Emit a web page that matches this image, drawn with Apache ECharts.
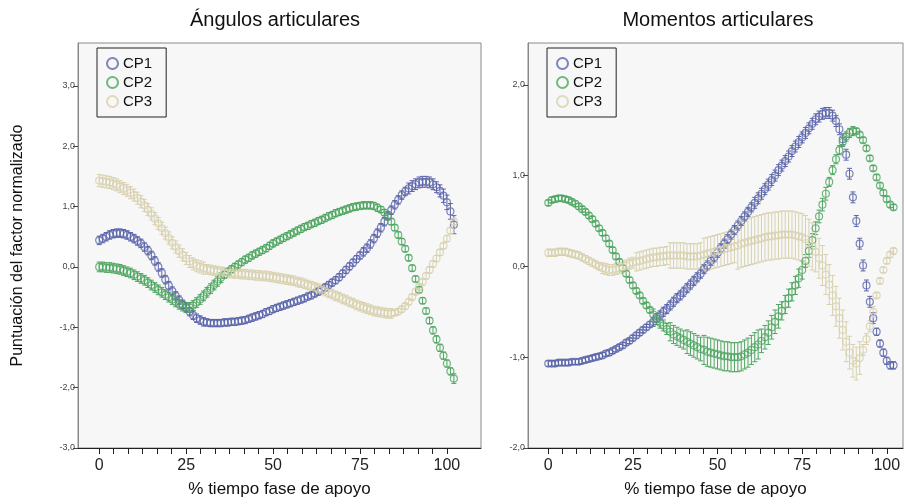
<!DOCTYPE html>
<html>
<head>
<meta charset="utf-8">
<title>Ángulos y momentos articulares</title>
<script src="https://cdn.jsdelivr.net/npm/echarts@6.0.0/dist/echarts.min.js"></script>
<style>
  html, body { margin: 0; padding: 0; background: #fff; }
  #chart { width: 904px; height: 504px; }
</style>
</head>
<body>
<div id="chart"></div>
<script>
// % tiempo fase de apoyo, one point per 1 %
const seriesNames = ["CP1", "CP2", "CP3"];
const xLabelValues = [0, 25, 50, 75, 100];
const leftYTicks = [-3, -2, -1, 0, 1, 2, 3];
const rightYTicks = [-2, -1, 0, 1, 2];

// Ángulos articulares
const angCP1 = [
  0.44, 0.47, 0.50, 0.53, 0.55, 0.56, 0.56, 0.55, 0.53, 0.50,
  0.47, 0.43, 0.39, 0.33, 0.27, 0.19, 0.10, 0.00, -0.10, -0.21,
  -0.31, -0.40, -0.48, -0.55, -0.62, -0.68, -0.74, -0.80, -0.85, -0.88,
  -0.91, -0.92, -0.93, -0.93, -0.93, -0.93, -0.92, -0.92, -0.91, -0.91,
  -0.90, -0.89, -0.88, -0.86, -0.84, -0.82, -0.80, -0.78, -0.75, -0.73,
  -0.70, -0.68, -0.66, -0.64, -0.62, -0.60, -0.58, -0.56, -0.54, -0.52,
  -0.49, -0.47, -0.44, -0.41, -0.38, -0.34, -0.30, -0.26, -0.22, -0.17,
  -0.11, -0.05, 0.01, 0.07, 0.13, 0.19, 0.25, 0.31, 0.38, 0.47,
  0.56, 0.65, 0.75, 0.85, 0.94, 1.03, 1.11, 1.19, 1.25, 1.30,
  1.34, 1.37, 1.40, 1.41, 1.41, 1.40, 1.37, 1.32, 1.26, 1.18,
  1.07, 0.92, 0.70
];
const angCP1Err = [
  0.07, 0.07, 0.07, 0.07, 0.07, 0.07, 0.07, 0.07, 0.07, 0.07,
  0.07, 0.07, 0.07, 0.07, 0.07, 0.07, 0.07, 0.07, 0.07, 0.07,
  0.07, 0.07, 0.07, 0.07, 0.07, 0.07, 0.07, 0.07, 0.07, 0.07,
  0.07, 0.06, 0.06, 0.06, 0.06, 0.06, 0.06, 0.06, 0.06, 0.06,
  0.06, 0.06, 0.06, 0.06, 0.06, 0.06, 0.06, 0.06, 0.06, 0.06,
  0.06, 0.06, 0.06, 0.06, 0.06, 0.06, 0.06, 0.06, 0.06, 0.06,
  0.06, 0.06, 0.06, 0.06, 0.06, 0.06, 0.06, 0.06, 0.06, 0.06,
  0.06, 0.06, 0.06, 0.06, 0.06, 0.06, 0.07, 0.07, 0.07, 0.07,
  0.07, 0.07, 0.07, 0.07, 0.07, 0.07, 0.07, 0.07, 0.07, 0.09,
  0.09, 0.09, 0.09, 0.09, 0.09, 0.09, 0.09, 0.09, 0.10, 0.11,
  0.12, 0.13, 0.15
];
const angCP2 = [
  0.00, 0.00, -0.01, -0.01, -0.02, -0.03, -0.04, -0.06, -0.08, -0.10,
  -0.13, -0.16, -0.19, -0.22, -0.26, -0.30, -0.34, -0.38, -0.42, -0.46,
  -0.50, -0.54, -0.58, -0.62, -0.65, -0.67, -0.67, -0.64, -0.59, -0.54,
  -0.48, -0.42, -0.36, -0.30, -0.24, -0.18, -0.13, -0.08, -0.04, 0.00,
  0.04, 0.08, 0.12, 0.15, 0.19, 0.22, 0.25, 0.28, 0.31, 0.35,
  0.39, 0.42, 0.45, 0.48, 0.51, 0.54, 0.57, 0.60, 0.63, 0.66,
  0.68, 0.71, 0.73, 0.76, 0.78, 0.81, 0.84, 0.86, 0.89, 0.91,
  0.93, 0.95, 0.97, 0.99, 1.00, 1.01, 1.02, 1.02, 1.02, 1.01,
  0.98, 0.95, 0.90, 0.83, 0.75, 0.65, 0.53, 0.42, 0.30, 0.15,
  -0.02, -0.20, -0.38, -0.56, -0.73, -0.89, -1.05, -1.20, -1.34, -1.47,
  -1.60, -1.73, -1.85
];
const angCP2Err = [
  0.08, 0.08, 0.08, 0.08, 0.08, 0.08, 0.08, 0.08, 0.08, 0.08,
  0.08, 0.08, 0.08, 0.08, 0.08, 0.08, 0.08, 0.08, 0.08, 0.08,
  0.08, 0.08, 0.08, 0.08, 0.08, 0.08, 0.08, 0.08, 0.08, 0.08,
  0.08, 0.08, 0.08, 0.08, 0.08, 0.08, 0.06, 0.06, 0.06, 0.06,
  0.06, 0.06, 0.06, 0.06, 0.06, 0.06, 0.06, 0.06, 0.06, 0.06,
  0.06, 0.06, 0.06, 0.06, 0.06, 0.06, 0.06, 0.06, 0.06, 0.06,
  0.06, 0.06, 0.06, 0.06, 0.06, 0.06, 0.06, 0.06, 0.06, 0.06,
  0.06, 0.06, 0.06, 0.06, 0.06, 0.06, 0.06, 0.06, 0.06, 0.06,
  0.06, 0.05, 0.05, 0.05, 0.05, 0.05, 0.05, 0.05, 0.05, 0.05,
  0.05, 0.05, 0.05, 0.05, 0.05, 0.05, 0.06, 0.06, 0.06, 0.06,
  0.06, 0.06, 0.08
];
const angCP3 = [
  1.43, 1.42, 1.41, 1.40, 1.38, 1.36, 1.33, 1.30, 1.27, 1.23,
  1.19, 1.14, 1.08, 1.02, 0.95, 0.88, 0.80, 0.72, 0.64, 0.56,
  0.48, 0.40, 0.33, 0.26, 0.20, 0.14, 0.09, 0.05, 0.02, 0.00,
  -0.02, -0.04, -0.05, -0.06, -0.07, -0.08, -0.09, -0.10, -0.10, -0.11,
  -0.11, -0.12, -0.12, -0.13, -0.13, -0.14, -0.14, -0.15, -0.15, -0.16,
  -0.17, -0.18, -0.19, -0.20, -0.21, -0.22, -0.23, -0.25, -0.26, -0.28,
  -0.30, -0.32, -0.34, -0.36, -0.38, -0.40, -0.43, -0.45, -0.48, -0.50,
  -0.53, -0.55, -0.58, -0.60, -0.63, -0.65, -0.67, -0.69, -0.71, -0.73,
  -0.74, -0.75, -0.76, -0.77, -0.77, -0.76, -0.74, -0.70, -0.65, -0.58,
  -0.50, -0.41, -0.33, -0.25, -0.15, -0.05, 0.05, 0.14, 0.24, 0.35,
  0.47, 0.60, 0.75
];
const angCP3Err = [
  0.10, 0.10, 0.10, 0.10, 0.10, 0.10, 0.10, 0.10, 0.10, 0.10,
  0.10, 0.10, 0.10, 0.10, 0.10, 0.10, 0.10, 0.10, 0.10, 0.10,
  0.10, 0.10, 0.10, 0.10, 0.10, 0.10, 0.10, 0.10, 0.10, 0.10,
  0.10, 0.08, 0.08, 0.08, 0.08, 0.08, 0.08, 0.08, 0.08, 0.08,
  0.08, 0.08, 0.08, 0.08, 0.08, 0.08, 0.08, 0.08, 0.08, 0.08,
  0.08, 0.08, 0.08, 0.08, 0.08, 0.08, 0.08, 0.08, 0.08, 0.08,
  0.08, 0.08, 0.08, 0.08, 0.08, 0.08, 0.08, 0.08, 0.08, 0.08,
  0.08, 0.08, 0.08, 0.08, 0.08, 0.08, 0.08, 0.08, 0.08, 0.08,
  0.08, 0.08, 0.08, 0.08, 0.08, 0.05, 0.05, 0.05, 0.05, 0.05,
  0.05, 0.05, 0.05, 0.05, 0.05, 0.05, 0.05, 0.05, 0.05, 0.05,
  0.05, 0.05, 0.05
];

// Momentos articulares
const momCP1 = [
  -1.07, -1.07, -1.07, -1.06, -1.06, -1.06, -1.06, -1.05, -1.05, -1.05,
  -1.04, -1.03, -1.02, -1.01, -1.00, -0.99, -0.98, -0.96, -0.95, -0.93,
  -0.91, -0.89, -0.87, -0.84, -0.82, -0.79, -0.76, -0.73, -0.70, -0.67,
  -0.64, -0.61, -0.57, -0.54, -0.50, -0.47, -0.43, -0.39, -0.35, -0.32,
  -0.28, -0.24, -0.20, -0.16, -0.12, -0.08, -0.03, 0.01, 0.06, 0.10,
  0.15, 0.20, 0.25, 0.30, 0.35, 0.40, 0.45, 0.50, 0.55, 0.60,
  0.65, 0.70, 0.75, 0.80, 0.85, 0.90, 0.95, 1.00, 1.06, 1.11,
  1.16, 1.21, 1.27, 1.32, 1.37, 1.42, 1.47, 1.52, 1.57, 1.62,
  1.65, 1.68, 1.69, 1.69, 1.66, 1.60, 1.51, 1.40, 1.23, 1.02,
  0.76, 0.50, 0.25, 0.01, -0.21, -0.39, -0.57, -0.72, -0.85, -0.95,
  -1.04, -1.09, -1.09
];
const momCP1Err = [
  0.03, 0.03, 0.03, 0.03, 0.03, 0.03, 0.03, 0.03, 0.03, 0.03,
  0.03, 0.03, 0.03, 0.03, 0.03, 0.03, 0.03, 0.03, 0.03, 0.03,
  0.03, 0.03, 0.03, 0.03, 0.03, 0.03, 0.03, 0.03, 0.03, 0.03,
  0.03, 0.05, 0.05, 0.05, 0.05, 0.05, 0.05, 0.05, 0.05, 0.05,
  0.05, 0.05, 0.05, 0.05, 0.05, 0.05, 0.05, 0.05, 0.05, 0.05,
  0.05, 0.05, 0.05, 0.05, 0.05, 0.05, 0.05, 0.05, 0.05, 0.05,
  0.05, 0.06, 0.06, 0.06, 0.06, 0.06, 0.06, 0.06, 0.06, 0.06,
  0.06, 0.06, 0.06, 0.06, 0.06, 0.06, 0.06, 0.06, 0.06, 0.06,
  0.06, 0.06, 0.06, 0.06, 0.06, 0.06, 0.06, 0.06, 0.06, 0.06,
  0.06, 0.06, 0.06, 0.06, 0.06, 0.06, 0.06, 0.04, 0.04, 0.04,
  0.04, 0.04, 0.04
];
const momCP2 = [
  0.70, 0.73, 0.74, 0.75, 0.75, 0.74, 0.73, 0.71, 0.69, 0.66,
  0.63, 0.60, 0.56, 0.52, 0.47, 0.42, 0.37, 0.31, 0.25, 0.18,
  0.11, 0.05, -0.02, -0.08, -0.15, -0.21, -0.27, -0.32, -0.38, -0.43,
  -0.48, -0.53, -0.58, -0.62, -0.65, -0.69, -0.72, -0.75, -0.77, -0.79,
  -0.81, -0.83, -0.85, -0.87, -0.89, -0.91, -0.92, -0.94, -0.95, -0.96,
  -0.97, -0.98, -0.99, -0.99, -1.00, -1.00, -1.00, -0.99, -0.97, -0.95,
  -0.92, -0.89, -0.86, -0.82, -0.78, -0.73, -0.67, -0.61, -0.55, -0.49,
  -0.42, -0.35, -0.28, -0.21, -0.13, -0.04, 0.06, 0.17, 0.29, 0.42,
  0.55, 0.68, 0.80, 0.93, 1.06, 1.18, 1.28, 1.37, 1.43, 1.47,
  1.49, 1.49, 1.45, 1.39, 1.30, 1.19, 1.08, 0.98, 0.89, 0.81,
  0.74, 0.68, 0.65
];
const momCP2Err = [
  0.03, 0.03, 0.03, 0.03, 0.03, 0.03, 0.03, 0.03, 0.03, 0.03,
  0.03, 0.03, 0.03, 0.03, 0.03, 0.03, 0.03, 0.03, 0.03, 0.03,
  0.03, 0.03, 0.03, 0.03, 0.03, 0.03, 0.03, 0.03, 0.03, 0.03,
  0.03, 0.06, 0.06, 0.06, 0.06, 0.06, 0.10, 0.10, 0.10, 0.10,
  0.10, 0.13, 0.13, 0.13, 0.13, 0.13, 0.16, 0.16, 0.16, 0.16,
  0.16, 0.16, 0.16, 0.16, 0.16, 0.16, 0.16, 0.16, 0.16, 0.16,
  0.16, 0.16, 0.16, 0.13, 0.13, 0.13, 0.13, 0.13, 0.13, 0.10,
  0.10, 0.10, 0.10, 0.10, 0.10, 0.10, 0.07, 0.07, 0.07, 0.07,
  0.07, 0.07, 0.07, 0.05, 0.05, 0.05, 0.05, 0.05, 0.05, 0.05,
  0.05, 0.03, 0.03, 0.03, 0.03, 0.03, 0.03, 0.03, 0.03, 0.03,
  0.03, 0.03, 0.03
];
const momCP3 = [
  0.15, 0.15, 0.15, 0.16, 0.16, 0.16, 0.15, 0.14, 0.13, 0.12,
  0.10, 0.08, 0.06, 0.04, 0.02, 0.00, -0.02, -0.03, -0.04, -0.04,
  -0.03, -0.02, -0.01, 0.01, 0.03, 0.04, 0.05, 0.06, 0.07, 0.08,
  0.09, 0.10, 0.10, 0.11, 0.11, 0.12, 0.12, 0.12, 0.12, 0.12,
  0.12, 0.11, 0.11, 0.11, 0.11, 0.12, 0.13, 0.14, 0.15, 0.16,
  0.17, 0.18, 0.19, 0.20, 0.21, 0.22, 0.23, 0.25, 0.26, 0.27,
  0.28, 0.29, 0.30, 0.31, 0.32, 0.33, 0.33, 0.34, 0.34, 0.35,
  0.35, 0.35, 0.35, 0.34, 0.33, 0.32, 0.30, 0.26, 0.22, 0.16,
  0.09, 0.01, -0.09, -0.20, -0.32, -0.44, -0.57, -0.70, -0.83, -0.95,
  -1.04, -1.07, -1.01, -0.92, -0.80, -0.66, -0.50, -0.32, -0.16, -0.04,
  0.06, 0.13, 0.17
];
const momCP3Err = [
  0.04, 0.04, 0.04, 0.04, 0.04, 0.04, 0.04, 0.04, 0.04, 0.04,
  0.04, 0.04, 0.04, 0.04, 0.04, 0.04, 0.06, 0.06, 0.06, 0.06,
  0.06, 0.06, 0.06, 0.06, 0.06, 0.06, 0.10, 0.10, 0.10, 0.10,
  0.10, 0.10, 0.10, 0.10, 0.10, 0.10, 0.14, 0.14, 0.14, 0.14,
  0.14, 0.14, 0.14, 0.14, 0.14, 0.14, 0.18, 0.18, 0.18, 0.18,
  0.18, 0.18, 0.18, 0.18, 0.18, 0.18, 0.26, 0.26, 0.26, 0.26,
  0.26, 0.26, 0.26, 0.26, 0.26, 0.26, 0.26, 0.26, 0.26, 0.26,
  0.26, 0.26, 0.26, 0.26, 0.26, 0.26, 0.26, 0.26, 0.26, 0.22,
  0.22, 0.22, 0.22, 0.22, 0.22, 0.22, 0.22, 0.22, 0.22, 0.18,
  0.18, 0.18, 0.18, 0.06, 0.06, 0.06, 0.06, 0.03, 0.03, 0.03,
  0.03, 0.03, 0.03
];

const colors = ["#5c66ab", "#4ea660", "#d7d1ae"];
const font = "'Liberation Sans', Arial, sans-serif";

// ticks every 25/6 % like the original axis
const xTickValues = [];
for (let i = 0; i <= 24; i++) xTickValues.push(+(i * 100 / 24).toFixed(4));

const panels = [
  { vals: [angCP1, angCP2, angCP3], errs: [angCP1Err, angCP2Err, angCP3Err] },
  { vals: [momCP1, momCP2, momCP3], errs: [momCP1Err, momCP2Err, momCP3Err] }
];

function fmt(v) {
  return v.toFixed(1).replace(".", ",");
}

function errorBars(color) {
  return function (params, api) {
    const x = api.value(0);
    const lo = api.coord([x, api.value(1)]);
    const hi = api.coord([x, api.value(2)]);
    const w = 2.5;
    const st = { stroke: color, lineWidth: 1 };
    return {
      type: "group",
      children: [
        { type: "line", shape: { x1: lo[0], y1: lo[1], x2: hi[0], y2: hi[1] }, style: st },
        { type: "line", shape: { x1: lo[0] - w, y1: lo[1], x2: lo[0] + w, y2: lo[1] }, style: st },
        { type: "line", shape: { x1: hi[0] - w, y1: hi[1], x2: hi[0] + w, y2: hi[1] }, style: st }
      ]
    };
  };
}

const series = [];
panels.forEach(function (p, g) {
  p.vals.forEach(function (vals, k) {
    const err = p.errs[k];
    series.push({
      name: seriesNames[k] + " err",
      type: "custom",
      xAxisIndex: g,
      yAxisIndex: g,
      renderItem: errorBars(colors[k]),
      encode: { x: 0, y: [1, 2] },
      data: vals.map(function (v, i) { return [i, v - err[i], v + err[i]]; }),
      silent: true
    });
    series.push({
      name: seriesNames[k],
      type: "scatter",
      xAxisIndex: g,
      yAxisIndex: g,
      symbol: "circle",
      symbolSize: 7,
      itemStyle: { color: "rgba(255,255,255,0)", borderColor: colors[k], borderWidth: 1.2 },
      data: vals.map(function (v, i) { return [i, v]; })
    });
  });
});

function xAxis(g, min, max) {
  return {
    type: "value",
    gridIndex: g,
    min: min,
    max: max,
    name: "% tiempo fase de apoyo",
    nameLocation: "middle",
    nameGap: 33,
    nameTextStyle: { fontSize: 17, color: "#111", fontFamily: font },
    axisLine: { show: true, onZero: false, lineStyle: { color: "#222", width: 1 } },
    axisTick: { show: true, customValues: xTickValues, length: 6, lineStyle: { color: "#222" } },
    axisLabel: { customValues: xLabelValues, fontSize: 16, color: "#222", margin: 10, fontFamily: font },
    splitLine: { show: false }
  };
}

function yAxis(g, min, max, ticks, name) {
  return {
    type: "value",
    gridIndex: g,
    min: min,
    max: max,
    name: name,
    nameLocation: "middle",
    nameGap: 52,
    nameTextStyle: { fontSize: 16, color: "#111", fontFamily: font },
    axisLine: { show: true, onZero: false, lineStyle: { color: "#888" } },
    axisTick: { show: true, customValues: ticks, length: 5, lineStyle: { color: "#444" } },
    axisLabel: { customValues: ticks, formatter: fmt, fontSize: 9, color: "#444", margin: 3, fontFamily: font },
    splitLine: { show: false }
  };
}

function legend(left) {
  return {
    data: seriesNames,
    left: left,
    top: 48,
    orient: "vertical",
    icon: "circle",
    itemWidth: 11,
    itemHeight: 12,
    itemGap: 4,
    padding: [8, 14, 8, 9],
    borderColor: "#222",
    borderWidth: 1,
    textStyle: { fontSize: 15, color: "#111", fontFamily: font }
  };
}

const titleStyle = { fontSize: 20, fontWeight: "normal", color: "#111", fontFamily: font };

const chart = echarts.init(document.getElementById("chart"));
chart.setOption({
  animation: false,
  backgroundColor: "#fff",
  title: [
    { text: "Ángulos articulares", left: 270, top: 5, textAlign: "center", textStyle: titleStyle },
    { text: "Momentos articulares", left: 713, top: 5, textAlign: "center", textStyle: titleStyle }
  ],
  legend: [legend(97), legend(547)],
  grid: [
    { left: 78, right: 423, top: 43, bottom: 56, show: true, backgroundColor: "#f7f7f7", borderColor: "#8a8a8a", borderWidth: 1 },
    { left: 528, right: 1, top: 43, bottom: 56, show: true, backgroundColor: "#f7f7f7", borderColor: "#8a8a8a", borderWidth: 1 }
  ],
  xAxis: [xAxis(0, -6.1, 109.8), xAxis(1, -6, 104.8)],
  yAxis: [
    yAxis(0, -3, 3.71, leftYTicks, "Puntuación del factor normalizado"),
    yAxis(1, -2, 2.46, rightYTicks, "")
  ],
  series: series
});
</script>
</body>
</html>
